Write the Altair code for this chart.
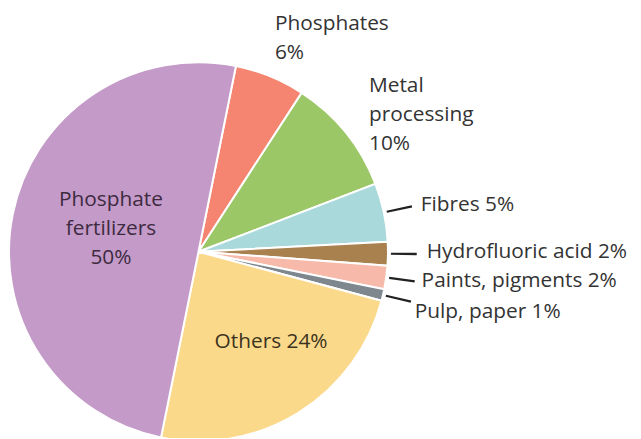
import math
import altair as alt
import pandas as pd

categories = ["Phosphates", "Metal processing", "Fibres", "Hydrofluoric acid",
              "Paints, pigments", "Pulp, paper", "Others", "Phosphate fertilizers"]
values = [6, 10, 5, 2, 2, 1, 24, 50]
labels = ["Phosphates\n6%", "Metal\nprocessing\n10%", "Fibres 5%", "Hydrofluoric acid 2%",
          "Paints, pigments 2%", "Pulp, paper 1%", "Others 24%", "Phosphate\nfertilizers\n50%"]
colors = ["#F58471", "#9BC767", "#A9D9DB", "#A8814F", "#F7B9AA", "#7F878E", "#FBD98B", "#C49AC8"]

df = pd.DataFrame({"category": categories, "value": values, "label": labels,
                   "order": list(range(len(categories)))})

off = math.radians(11.4)
theta_scale = alt.Scale(domain=[0, 100], range=[off, off + 2 * math.pi])
CX, CY = 192, 244
FONT = "Open Sans"

base = alt.Chart(df).transform_window(
    cum="sum(value)", sort=[alt.SortField("order")], frame=[None, 0]
).transform_calculate(
    start="datum.cum - datum.value",
    mid="datum.cum - datum.value / 2",
    lo="datum.cum - datum.value / 2 - 0.09",
    hi="datum.cum - datum.value / 2 + 0.09",
)

pie = base.mark_arc(radius=191, stroke="white", strokeWidth=2).encode(
    theta=alt.Theta("start:Q", scale=theta_scale, stack=None),
    theta2="cum:Q",
    color=alt.Color("category:N", scale=alt.Scale(domain=categories, range=colors), legend=None),
    x=alt.value(CX), y=alt.value(CY),
)

leaders = base.transform_filter(
    alt.FieldOneOfPredicate(field="category", oneOf=["Fibres", "Hydrofluoric acid", "Paints, pigments", "Pulp, paper"])
).mark_arc(radius=194, radius2=220, color="#222222").encode(
    theta=alt.Theta("lo:Q", scale=theta_scale, stack=None),
    theta2="hi:Q",
    x=alt.value(CX), y=alt.value(CY),
)


def label(cat, radius, dx=0, dy=0, align="left", color="#333333"):
    return base.transform_filter(alt.datum.category == cat).mark_text(
        radius=radius, align=align, baseline="middle", dx=dx, dy=dy,
        font=FONT, fontSize=21, lineBreak="\n", lineHeight=29, color=color,
    ).encode(
        theta=alt.Theta("mid:Q", scale=theta_scale, stack=None),
        text="label:N",
        x=alt.value(CX), y=alt.value(CY),
    )


layers = [
    pie, leaders,
    label("Phosphates", 225, dx=-8, dy=-21),
    label("Metal processing", 225, dx=-3, dy=-25),
    label("Fibres", 225, dx=4),
    label("Hydrofluoric acid", 225, dx=5, dy=-2),
    label("Paints, pigments", 225, dx=2, dy=-1),
    label("Pulp, paper", 225, dx=-1, dy=9),
    label("Others", 116, dx=12, dy=-8, align="center", color="#3b3320"),
    label("Phosphate fertilizers", 91, dx=1, dy=-34, align="center", color="#3d2a40"),
]

chart = alt.layer(*layers).properties(
    width=630, height=430, autosize="none", padding=0
).configure_view(stroke=None)

chart.save("out.html", embed_options={"renderer": "svg", "actions": False})
